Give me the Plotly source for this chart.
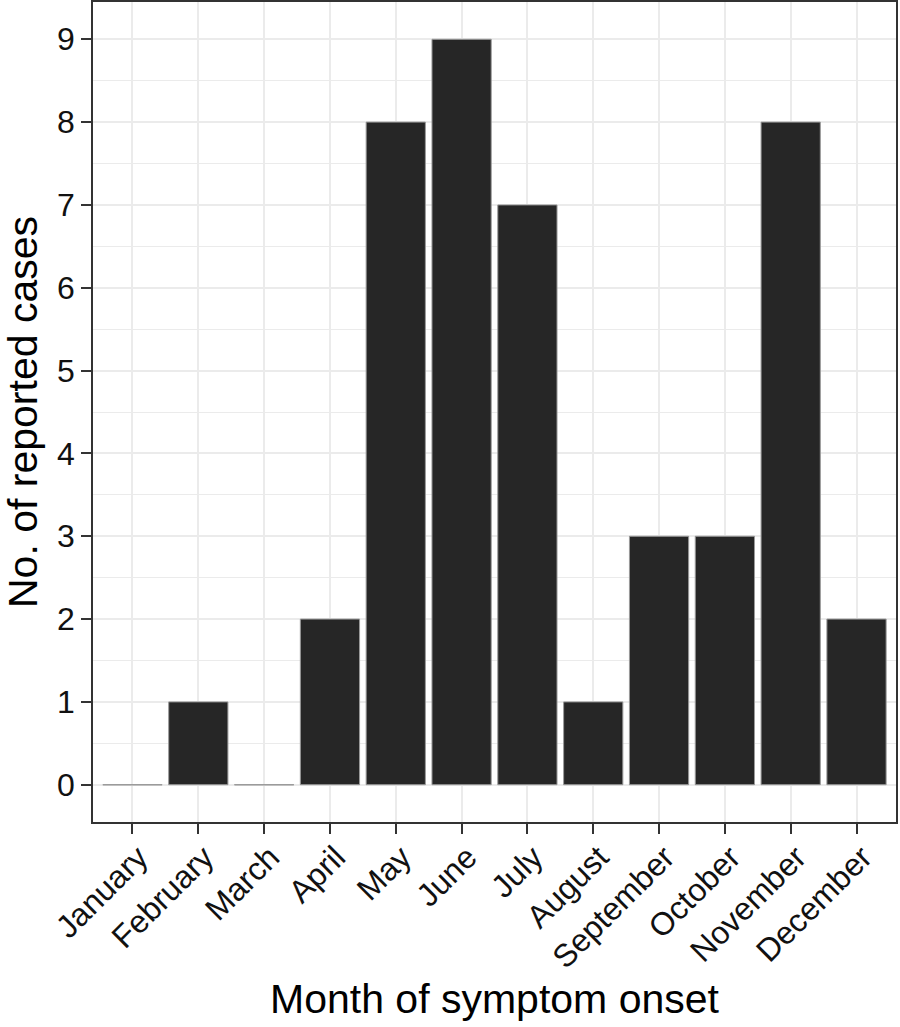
import plotly.graph_objects as go

months = ["January", "February", "March", "April", "May", "June", "July",
          "August", "September", "October", "November", "December"]
cases = [0, 1, 0, 2, 8, 9, 7, 1, 3, 3, 8, 2]
y_ticks = list(range(0, 10))

BAR_W = 0.9
FONT = "Liberation Sans, Arial, Helvetica, sans-serif"

fig = go.Figure()
fig.add_trace(go.Bar(
    x=months, y=cases, width=BAR_W,
    marker=dict(color="#262626", line=dict(color="#9a9a9a", width=1)),
    hoverinfo="x+y",
))

# thin outline for zero-height bars (as ggplot draws them)
for i, v in enumerate(cases):
    if v == 0:
        fig.add_shape(type="line", xref="x", yref="y",
                      x0=i - BAR_W / 2, x1=i + BAR_W / 2, y0=v, y1=v,
                      line=dict(color="#9a9a9a", width=1), layer="above")

fig.update_layout(
    width=900, height=1027,
    margin=dict(l=93, r=4, t=2, b=205),
    paper_bgcolor="white", plot_bgcolor="white",
    font=dict(family=FONT, color="black"),
    showlegend=False, bargap=0.1,
    xaxis=dict(
        type="category", categoryorder="array", categoryarray=months,
        range=[-0.6, len(months) - 0.4], automargin=False,
        showgrid=True, gridcolor="#ebebeb", gridwidth=2,
        showline=True, linecolor="#333333", linewidth=1.5, mirror=True,
        ticks="outside", ticklen=10, tickwidth=2, tickcolor="#333333",
        tickangle=-45, tickfont=dict(size=32, color="#111111"),
        ticklabelstandoff=-8, ticklabelshift=6,
        title=dict(text="Month of symptom onset", font=dict(size=41), standoff=10),
        zeroline=False,
    ),
    yaxis=dict(
        range=[-0.45, 9.45], automargin=False,
        tickvals=y_ticks, ticktext=[str(t) for t in y_ticks],
        showgrid=True, gridcolor="#ebebeb", gridwidth=2,
        minor=dict(tickvals=[t + 0.5 for t in range(-1, 10)], showgrid=True,
                   gridcolor="#ebebeb", gridwidth=1),
        showline=True, linecolor="#333333", linewidth=1.5, mirror=True,
        ticks="outside", ticklen=10, tickwidth=2, tickcolor="#333333",
        tickfont=dict(size=32, color="#111111"),
        title=dict(text="No. of reported cases", font=dict(size=41), standoff=10),
        zeroline=False,
    ),
)

fig.write_html("out.html", config={"displayModeBar": False},
               post_script="document.body.style.margin='0';document.body.style.overflow='hidden';")
